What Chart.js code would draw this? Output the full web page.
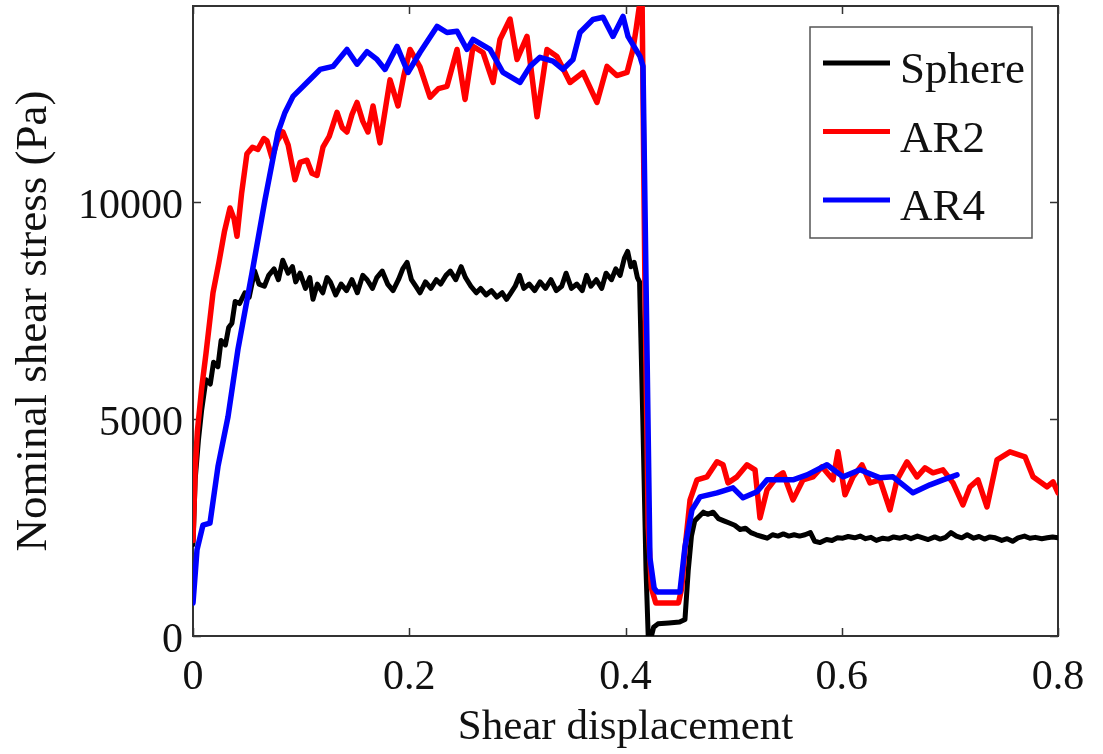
<!DOCTYPE html>
<html lang="en">
<head>
  <meta charset="UTF-8">
  <title>Nominal shear stress vs shear displacement</title>
  <script src="https://cdn.jsdelivr.net/npm/chart.js"></script>
  <style>
    html, body {
      margin: 0;
      padding: 0;
      background: #fff;
    }
    #wrap {
      width: 1103px;
      height: 754px;
    }
  </style>
</head>
<body>

<div id="wrap">
  <canvas id="chart" width="1103" height="754"></canvas>
</div>

<script>
  // axis ticks
  const xTicks = [0, 0.2, 0.4, 0.6, 0.8];
  const yTicks = [0, 5000, 10000];

  const seriesNames = ["Sphere", "AR2", "AR4"];
  const seriesColors = ["#000000", "#ff0000", "#0000ff"];

  // Sphere (black)
  const sphereX = [0, 0.002, 0.005, 0.008, 0.012, 0.016, 0.019, 0.023, 0.026, 0.030, 0.033, 0.036, 0.039, 0.043, 0.048,
    0.052, 0.057, 0.061, 0.066, 0.070, 0.075, 0.079, 0.083, 0.088, 0.092, 0.095, 0.099, 0.104, 0.108, 0.111,
    0.115, 0.120, 0.124, 0.127, 0.132, 0.137, 0.142, 0.147, 0.152, 0.157, 0.161, 0.166, 0.170, 0.175, 0.180,
    0.185, 0.190, 0.194, 0.198, 0.202, 0.206, 0.210, 0.215, 0.220, 0.225, 0.229, 0.234, 0.238, 0.243, 0.248,
    0.252, 0.257, 0.262, 0.266, 0.271, 0.276, 0.281, 0.286, 0.290, 0.294, 0.298, 0.302, 0.306, 0.311, 0.316,
    0.321, 0.326, 0.331, 0.336, 0.341, 0.345, 0.350, 0.355, 0.360, 0.364, 0.368, 0.373, 0.378, 0.382, 0.387,
    0.391, 0.395, 0.399, 0.402, 0.405, 0.408, 0.411, 0.413, 0.416, 0.419, 0.421, 0.424, 0.426, 0.430, 0.440,
    0.450, 0.455, 0.458, 0.461, 0.464, 0.468, 0.472, 0.476, 0.481, 0.486, 0.491, 0.496, 0.501, 0.506, 0.511,
    0.516, 0.521, 0.526, 0.531, 0.536, 0.541, 0.546, 0.551, 0.556, 0.561, 0.566, 0.571, 0.575, 0.580, 0.586,
    0.591, 0.596, 0.601, 0.606, 0.612, 0.617, 0.622, 0.627, 0.632, 0.638, 0.643, 0.648, 0.654, 0.659, 0.664,
    0.670, 0.675, 0.680, 0.686, 0.691, 0.696, 0.701, 0.706, 0.711, 0.716, 0.722, 0.727, 0.732, 0.737, 0.742,
    0.748, 0.753, 0.758, 0.763, 0.769, 0.774, 0.779, 0.785, 0.790, 0.795, 0.800];
  const sphereY = [2100, 3600, 4500, 5200, 5900, 5800, 6300, 6200, 6800, 6700, 7100, 7200, 7700, 7650, 7900,
    7800, 8400, 8100, 8050, 8300, 8450, 8200, 8650, 8350, 8500, 8150, 8350, 8000, 8250, 7750,
    8100, 7900, 8250, 8150, 7850, 8100, 7950, 8200, 7900, 8300, 8200, 8000, 8250, 8400, 8100,
    7950, 8200, 8450, 8600, 8200, 8050, 7900, 8150, 8000, 8200, 8100, 8300, 8400, 8200, 8500,
    8250, 8050, 7900, 8000, 7850, 7950, 7800, 7900, 7750, 7900, 8050, 8300, 8000, 8100, 7950,
    8150, 8000, 8200, 7950, 8050, 8350, 8000, 8100, 7950, 8300, 8050, 8200, 8000, 8350, 8200,
    8450, 8300, 8700, 8850, 8500, 8600, 8250, 8150, 5000, 1500, 0, 0, 200, 280, 300,
    320, 380, 1500, 2300, 2650, 2750, 2850, 2800, 2850, 2700, 2650, 2600, 2550, 2450, 2480,
    2380, 2330, 2290, 2250, 2330, 2300, 2350, 2300, 2330, 2300, 2330, 2380, 2180, 2150, 2220,
    2200, 2260, 2250, 2290, 2260, 2300, 2240, 2270, 2200, 2250, 2230, 2280, 2250, 2290, 2240,
    2300, 2260, 2220, 2280, 2230, 2270, 2380, 2300, 2260, 2330, 2250, 2290, 2230, 2280, 2260,
    2200, 2240, 2180, 2260, 2300, 2250, 2270, 2240, 2260, 2280, 2260];

  // AR2 (red)
  const ar2X = [0, 0.002, 0.004, 0.008, 0.012, 0.0185, 0.024, 0.029, 0.0342, 0.038, 0.0407, 0.045, 0.0499, 0.055,
    0.060, 0.0655, 0.0684, 0.0731, 0.078, 0.0832, 0.088, 0.0943, 0.099, 0.1054, 0.110, 0.1147, 0.1202, 0.126,
    0.1332, 0.138, 0.1424, 0.147, 0.1517, 0.157, 0.1618, 0.1665, 0.1729, 0.1822, 0.1896, 0.195, 0.2007, 0.2099,
    0.2192, 0.227, 0.2349, 0.2442, 0.2516, 0.259, 0.2682, 0.2775, 0.2839, 0.2932, 0.2997, 0.3089, 0.3182, 0.3274,
    0.3366, 0.3487, 0.3607, 0.3736, 0.3829, 0.392, 0.4014, 0.4069, 0.410, 0.4134, 0.415, 0.418, 0.421, 0.424,
    0.428, 0.449, 0.452, 0.455, 0.4597, 0.4661, 0.4754, 0.4846, 0.4902, 0.4948, 0.5031, 0.5124, 0.5198, 0.5244,
    0.5309, 0.5401, 0.5457, 0.5549, 0.5642, 0.5734, 0.5817, 0.5919, 0.5965, 0.603, 0.6104, 0.6187, 0.6261, 0.6354,
    0.6446, 0.6511, 0.6603, 0.6696, 0.677, 0.6844, 0.6936, 0.7029, 0.7121, 0.7186, 0.726, 0.7343, 0.7436, 0.7556,
    0.7695, 0.7769, 0.7898, 0.7954, 0.8];
  const ar2Y = [2200, 3800, 4700, 5700, 6500, 7900, 8600, 9300, 9850, 9600, 9200, 10200, 11100, 11250,
    11200, 11450, 11400, 11000, 11400, 11600, 11300, 10500, 10900, 10950, 10650, 10600, 11250, 11500,
    12050, 11700, 11600, 12000, 12280, 11850, 11600, 12200, 11350, 12800, 12200, 12900, 13500, 13100,
    12400, 12600, 12650, 13500, 12350, 13570, 13430, 12740, 13730, 14200, 13270, 13800, 11950, 13500,
    13340, 12740, 12970, 12280, 13110, 12900, 12970, 13500, 14000, 14600, 15500, 8000, 2500, 1100,
    760, 760, 1100, 2000, 3133, 3594, 3663, 4009, 3940, 3525, 3663, 3940, 3825, 2719,
    3364, 3663, 3756, 3133, 3594, 3663, 3894, 3594, 4239, 3249, 3663, 3940, 3525, 3594,
    2903, 3594, 4009, 3663, 3871, 3756, 3825, 3525, 3018, 3433, 3594, 2972, 4055, 4239,
    4124, 3663, 3433, 3548, 3295];

  // AR4 (blue)
  const ar4X = [0, 0.0037, 0.0092, 0.0157, 0.0231, 0.0324, 0.0416, 0.0546, 0.0666, 0.0786, 0.0851, 0.0925, 0.1054,
    0.1175, 0.1295, 0.1424, 0.1517, 0.1609, 0.1702, 0.1776, 0.1887, 0.1988, 0.2099, 0.2257, 0.2349, 0.2442,
    0.2534, 0.259, 0.2747, 0.2867, 0.3024, 0.3117, 0.3209, 0.3329, 0.3422, 0.3514, 0.3579, 0.3699, 0.3792,
    0.3884, 0.3977, 0.4023, 0.4134, 0.4162, 0.4226, 0.4265, 0.4291, 0.4503, 0.455, 0.4615, 0.4689, 0.4846,
    0.4994, 0.5087, 0.5216, 0.5309, 0.5549, 0.5679, 0.5863, 0.6012, 0.6169, 0.6354, 0.6474, 0.6659, 0.6816,
    0.6936, 0.7066];
  const ar4Y = [760, 1980, 2550, 2600, 3900, 5050, 6600, 8360, 10040, 11590, 12050, 12420, 12740,
    13040, 13110, 13500, 13160, 13450, 13270, 13040, 13570, 12970, 13430, 14030, 13890, 13920,
    13500, 13730, 13500, 12970, 12740, 13110, 13320, 13230, 13040, 13270, 13890, 14190, 14240,
    13800, 14260, 13800, 13340, 13110, 1800, 1100, 1014, 1014, 2051, 2903, 3203, 3295,
    3410, 3180, 3318, 3594, 3594, 3709, 3940, 3663, 3825, 3640, 3663, 3295, 3479,
    3594, 3709];

  const xs = [sphereX, ar2X, ar4X];
  const ys = [sphereY, ar2Y, ar4Y];
  const drawOrder = [2, 1, 0]; // blue on top

  const serif = "'Liberation Serif', 'Times New Roman', serif";
  const tickFont = { family: serif, size: 42 };

  // frame with inward ticks on all four sides
  const framePlugin = {
    id: "frame",
    beforeDatasetsDraw(chart) {
      const { ctx, chartArea: a, scales } = chart;
      const tl = 8;
      ctx.save();
      ctx.strokeStyle = "#333";
      ctx.lineWidth = 2;
      ctx.strokeRect(a.left, a.top, a.right - a.left, a.bottom - a.top);
      ctx.beginPath();
      xTicks.forEach(v => {
        const px = Math.round(scales.x.getPixelForValue(v)) + 0.5;
        ctx.moveTo(px, a.bottom); ctx.lineTo(px, a.bottom - tl);
        ctx.moveTo(px, a.top); ctx.lineTo(px, a.top + tl);
      });
      yTicks.forEach(v => {
        const py = Math.round(scales.y.getPixelForValue(v)) + 0.5;
        ctx.moveTo(a.left, py); ctx.lineTo(a.left + tl, py);
        ctx.moveTo(a.right, py); ctx.lineTo(a.right - tl, py);
      });
      ctx.lineWidth = 1.5;
      ctx.stroke();
      ctx.restore();
    }
  };

  // legend box in the upper right corner
  const legendPlugin = {
    id: "boxLegend",
    afterDraw(chart) {
      const ctx = chart.ctx;
      const bx = 810, by = 27, bw = 222, bh = 211;
      ctx.save();
      ctx.fillStyle = "#fff";
      ctx.fillRect(bx, by, bw, bh);
      ctx.strokeStyle = "#555";
      ctx.lineWidth = 1.5;
      ctx.strokeRect(bx, by, bw, bh);
      ctx.font = "45px " + serif;
      ctx.textBaseline = "alphabetic";
      ctx.textAlign = "left";
      chart.data.datasets.forEach((ds, i) => {
        const ly = 63 + i * 68.5;
        ctx.strokeStyle = ds.borderColor;
        ctx.lineWidth = 5;
        ctx.beginPath();
        ctx.moveTo(823, ly);
        ctx.lineTo(890, ly);
        ctx.stroke();
        ctx.fillStyle = "#111";
        ctx.fillText(ds.label, 900, ly + 20);
      });
      ctx.restore();
    }
  };

  const datasets = seriesNames.map((name, i) => ({
    label: name,
    data: xs[i].map((x, j) => ({ x: x, y: ys[i][j] })),
    borderColor: seriesColors[i],
    backgroundColor: seriesColors[i],
    borderWidth: i === 0 ? 5 : 5.5,
    pointRadius: 0,
    tension: 0,
    fill: false,
    borderJoinStyle: "round",
    borderCapStyle: "round",
    order: drawOrder[i]
  }));

  new Chart(document.getElementById("chart"), {
    type: "line",
    data: { datasets: datasets },
    options: {
      responsive: false,
      animation: false,
      events: [],
      layout: { padding: { top: 6, right: 45, left: 0, bottom: 0 } },
      plugins: {
        legend: { display: false },
        tooltip: { enabled: false }
      },
      scales: {
        x: {
          type: "linear",
          min: 0,
          max: 0.8,
          afterBuildTicks: s => { s.ticks = xTicks.map(v => ({ value: v })); },
          afterFit: s => { s.height = 118; s.paddingLeft = 0; s.paddingRight = 0; },
          grid: { display: false, drawTicks: false },
          border: { display: false },
          ticks: {
            font: tickFont,
            color: "#111",
            padding: 17,
            maxRotation: 0,
            callback: v => String(v)
          },
          title: {
            display: true,
            text: "Shear displacement",
            font: { family: serif, size: 43 },
            color: "#111",
            padding: { top: 0, bottom: 0 }
          }
        },
        y: {
          type: "linear",
          min: 0,
          max: 14500,
          afterBuildTicks: s => { s.ticks = yTicks.map(v => ({ value: v })); },
          afterFit: s => { s.width = 193; s.paddingTop = 0; s.paddingBottom = 0; },
          grid: { display: false, drawTicks: false },
          border: { display: false },
          ticks: {
            font: tickFont,
            color: "#111",
            padding: 10,
            labelOffset: 5,
            callback: v => String(v)
          },
          title: {
            display: true,
            text: "Nominal shear stress (Pa)",
            font: { family: serif, size: 45 },
            color: "#111",
            padding: { top: 7, bottom: 0 }
          }
        }
      }
    },
    plugins: [framePlugin, legendPlugin]
  });
</script>

</body>
</html>
